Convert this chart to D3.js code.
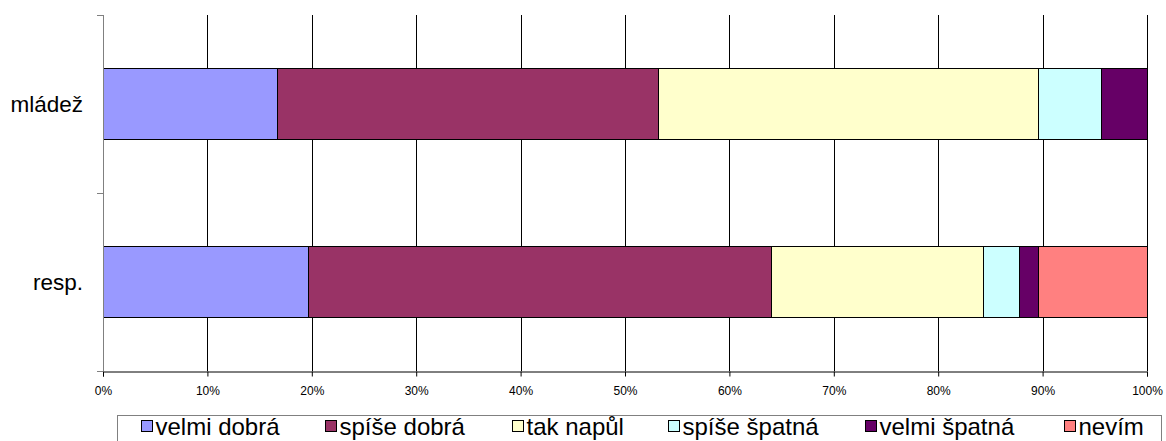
<!DOCTYPE html>
<html>
<head>
<meta charset="utf-8">
<script src="https://cdn.jsdelivr.net/npm/d3@7"></script>
<style>
  body { margin: 0; background: #fff; }
  svg { display: block; font-family: Arial, "Liberation Sans", sans-serif; }
</style>
</head>
<body>
<div id="chart"></div>
<script>
// kategorie (zdola nahoru) a hodnoty v %
var categories = ["resp.", "mládež"];
var seriesNames = ["velmi dobrá", "spíše dobrá", "tak napůl", "spíše špatná", "velmi špatná", "nevím"];
var seriesColors = ["#9999FF", "#993366", "#FFFFCC", "#CCFFFF", "#660066", "#FF8080"];
var respValues = [19.6, 44.4, 20.3, 3.4, 1.9, 10.4];
var mladezValues = [16.7, 36.5, 36.4, 6.0, 4.4, 0];
var tickValues = [0, 0.1, 0.2, 0.3, 0.4, 0.5, 0.6, 0.7, 0.8, 0.9, 1];

var W = 1166, H = 441;
var margin = { top: 15, right: 19, bottom: 70, left: 103 };
var width = W - margin.left - margin.right,
  height = H - margin.top - margin.bottom;

var svg = d3.select("#chart").append("svg").attr("width", W).attr("height", H);
var g = svg.append("g").attr("transform", "translate(" + margin.left + "," + margin.top + ")");

// tabulka pro stack
var rows = [
  { cat: "resp.", vals: respValues },
  { cat: "mládež", vals: mladezValues }
].map(function(r) {
  var o = { cat: r.cat };
  var total = d3.sum(r.vals);
  seriesNames.forEach(function(s, i) { o[s] = r.vals[i] / total; });
  return o;
});

var x = d3.scaleLinear().domain([0, 1]).range([0, width]);
var y = d3.scaleBand().domain(categories.slice().reverse()).range([0, height])
  .paddingInner(0.6).paddingOuter(0.3);
var yBand = d3.scaleBand().domain(categories.slice().reverse()).range([0, height]);

// mřížka
g.append("g").selectAll("line").data(tickValues.slice(1)).enter().append("line")
  .attr("x1", function(d) { return Math.round(x(d)) + 0.5; })
  .attr("x2", function(d) { return Math.round(x(d)) + 0.5; })
  .attr("y1", 0).attr("y2", height)
  .attr("stroke", "#000").attr("stroke-width", 1);

// sloupce
var stack = d3.stack().keys(seriesNames)(rows);
var layers = g.append("g").selectAll("g").data(stack).enter().append("g")
  .attr("fill", function(d, i) { return seriesColors[i]; });
layers.selectAll("rect").data(function(d) { return d.filter(function(p) { return p[1] - p[0] > 0; }); })
  .enter().append("rect")
  .attr("x", function(d) { return Math.round(x(d[0])) + 0.5; })
  .attr("width", function(d) { return Math.round(x(d[1])) - Math.round(x(d[0])); })
  .attr("y", function(d) { return Math.round(y(d.data.cat)) + 0.5; })
  .attr("height", Math.round(y.bandwidth()))
  .attr("stroke", "#000").attr("stroke-width", 1);

// osa y
var yAxis = g.append("g");
yAxis.append("line").attr("x1", 0.5).attr("x2", 0.5).attr("y1", 0).attr("y2", height)
  .attr("stroke", "#808080");
yAxis.selectAll("line.tk").data([0].concat(categories.map(function(c) { return yBand(c) + yBand.bandwidth(); })))
  .enter().append("line").attr("class", "tk")
  .attr("x1", -6).attr("x2", 0)
  .attr("y1", function(d) { return Math.round(d) + 0.5; })
  .attr("y2", function(d) { return Math.round(d) + 0.5; })
  .attr("stroke", "#808080");
yAxis.selectAll("text").data(categories).enter().append("text")
  .attr("x", -20)
  .attr("y", function(d) { return y(d) + y.bandwidth() / 2; })
  .attr("dy", "0.35em")
  .attr("text-anchor", "end")
  .attr("font-size", "22.5px")
  .text(function(d) { return d; });

// osa x
var xAxis = d3.axisBottom(x).tickValues(tickValues).tickFormat(d3.format(".0%")).tickSize(5).tickPadding(10);
var gx = g.append("g").attr("transform", "translate(0," + (height + 0.5) + ")").call(xAxis);
gx.select(".domain").attr("stroke", "#000");
gx.selectAll(".tick line").attr("stroke", "#000");
gx.selectAll(".tick text").attr("font-size", "12px").attr("font-family", "Arial, 'Liberation Sans', sans-serif").attr("fill", "#000");

// legenda
var legend = svg.append("g").attr("transform", "translate(117.5,415.5)");
legend.append("rect").attr("width", 1044).attr("height", 40)
  .attr("fill", "#fff").attr("stroke", "#808080");
var legendX = [24, 208, 395, 551, 748, 947];
var items = legend.selectAll("g.item").data(seriesNames).enter().append("g")
  .attr("class", "item")
  .attr("transform", function(d, i) { return "translate(" + legendX[i] + ",0)"; });
items.append("rect").attr("x", 0).attr("y", 5).attr("width", 11).attr("height", 11)
  .attr("fill", function(d, i) { return seriesColors[i]; })
  .attr("stroke", "#000");
items.append("text").attr("x", 14).attr("y", 19).attr("font-size", "24px")
  .text(function(d) { return d; });
</script>
</body>
</html>
